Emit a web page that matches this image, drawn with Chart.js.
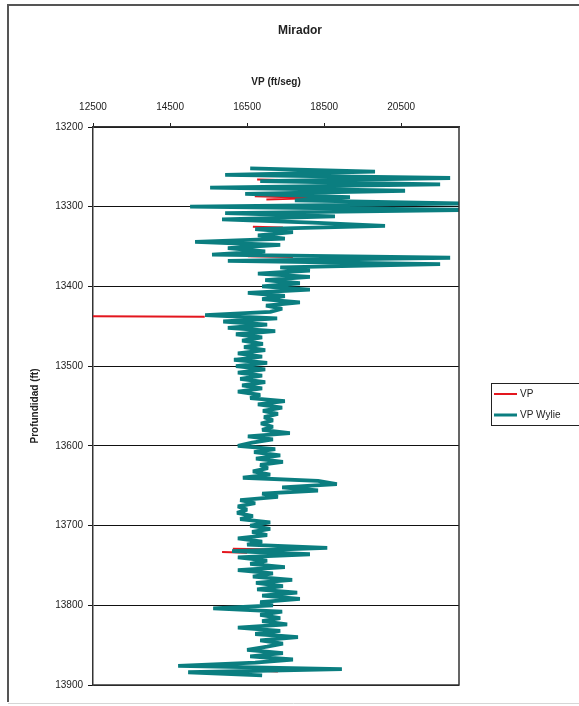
<!DOCTYPE html>
<html>
<head>
<meta charset="utf-8">
<title>Mirador</title>
<script src="https://cdn.jsdelivr.net/npm/chart.js@4.4.1/dist/chart.umd.min.js"></script>
<style>
    html, body { margin:0; padding:0; background:#fff; }
    #wrap { position:relative; width:579px; height:706px; }
</style>
</head>
<body>
<div id="wrap"><canvas id="logChart"></canvas></div>
<script>
// ===============================
// Data
// ===============================

const xTicks = [12500, 14500, 16500, 18500, 20500];
const yTicks = [13200, 13300, 13400, 13500, 13600, 13700, 13800, 13900];

// VP Wylie log, depth (ft) and velocity (ft/seg)
const wylieDepth = [
    13252,13256,13260,13264,13268,13272,13276,13280,13284,13288,
    13292,13296,13300,13304,13308,13312,13316,13320,13324,13328,
    13332,13336,13340,13344,13348,13352,13356,13360,13364,13368,
    13372,13376,13380,13384,13388,13392,13396,13400,13404,13408,
    13412,13416,13420,13424,13428,13432,13436,13440,13444,13448,
    13452,13456,13460,13464,13468,13472,13476,13480,13484,13488,
    13492,13496,13500,13504,13508,13512,13516,13520,13524,13528,
    13532,13536,13540,13544,13548,13552,13556,13560,13564,13568,
    13572,13576,13580,13584,13588,13592,13596,13600,13604,13608,
    13612,13616,13620,13624,13628,13632,13636,13640,13644,13648,
    13652,13656,13660,13664,13668,13672,13676,13680,13684,13688,
    13692,13696,13700,13704,13708,13712,13716,13720,13724,13728,
    13732,13736,13740,13744,13748,13752,13756,13760,13764,13768,
    13772,13776,13780,13784,13788,13792,13796,13800,13804,13808,
    13812,13816,13820,13824,13828,13832,13836,13840,13844,13848,
    13852,13856,13860,13864,13868,13872,13876,13880,13884,13888
];
const wylieVel = [
    16580,19820,15930,21770,16840,21510,15540,20600,16450,19170,
    17740,22300,15020,22300,15930,18780,15850,18190,20080,16710,
    17690,16780,17480,15150,17360,16000,16970,15590,21770,16000,
    21510,17360,18130,16780,18130,16970,17870,16890,18130,16520,
    17480,16890,17870,16990,17410,17100,15410,17280,15880,17020,
    16000,17230,16210,16890,16370,16910,16420,16970,16260,16890,
    16160,17020,16210,16970,16260,16890,16320,16970,16370,16890,
    16260,16840,16580,17480,16780,17410,16910,17300,16940,17170,
    16860,17170,16890,17610,16520,17170,16630,16260,17230,16680,
    17360,16730,17430,16840,17040,16650,17100,16390,18340,18830,
    17410,18340,16890,17300,16320,16710,16260,16500,16240,16650,
    16320,17100,16580,17100,16630,17020,16260,16890,16500,18580,
    16110,18130,16260,17020,16580,17480,16260,17170,16650,17670,
    16730,17430,16760,17800,16890,17870,16840,17170,15620,17410,
    16840,17360,16890,17540,16260,17360,16710,17820,16840,17430,
    17020,16500,17430,16580,17690,16710,14710,18960,14970,16890
];

// VP readings (null = no reading)
const vpDepth = [13266,13267,null, 13287,13289,13291,null, 13325,13326,null, 13362,13363,null,
                 13437,13438,null, 13729,13730,null, 13733,13734,null, 13882,13883];
const vpVel   = [16760,17930,null, 16700,18300,17000,null, 16650,17430,null, 16520,17690,null,
                 9500,15400,null,  16130,17280,null, 15850,16500,null, 16890,17300];

const RED = "#e3161e";
const TEAL = "#0b7e80";
const FONT = "'Liberation Sans', Arial, sans-serif";

const toPoints = (depths, vels) => depths.map((d, i) => ({x: vels[i], y: d}));

// ===============================
// Frame, title and legend
// ===============================

const framePlugin = {
    id: "frame",
    beforeDraw(chart){
        const c = chart.ctx;
        c.save();
        c.fillStyle = "#fff";
        c.fillRect(0, 0, chart.width, chart.height);
        c.restore();
    },
    afterDraw(chart){
        const c = chart.ctx;
        const a = chart.chartArea;
        c.save();

        // right and bottom edges of the plot
        c.strokeStyle = "#333";
        c.lineWidth = 1.5;
        c.beginPath();
        c.moveTo(a.right, a.top);
        c.lineTo(a.right, a.bottom);
        c.lineTo(a.left, a.bottom);
        c.stroke();

        // outer border
        c.strokeStyle = "#555";
        c.lineWidth = 2;
        c.beginPath();
        c.moveTo(chart.width, 5);
        c.lineTo(8, 5);
        c.lineTo(8, 702);
        c.stroke();
        c.strokeStyle = "#d6d6d6";
        c.lineWidth = 1;
        c.beginPath();
        c.moveTo(8, 703.5);
        c.lineTo(chart.width, 703.5);
        c.stroke();

        // title
        c.fillStyle = "#222";
        c.font = "bold 12px " + FONT;
        c.textAlign = "center";
        c.textBaseline = "middle";
        c.fillText("Mirador", 300, 31);

        // legend
        c.strokeStyle = "#222";
        c.lineWidth = 1;
        c.strokeRect(491.5, 383.5, 120, 42);
        const ds = chart.data.datasets;
        const rows = [394, 415];
        c.font = "10px " + FONT;
        c.textAlign = "left";
        ds.forEach((d, i) => {
            c.strokeStyle = d.borderColor;
            c.lineWidth = Math.min(d.borderWidth, 3);
            c.beginPath();
            c.moveTo(494, rows[i]);
            c.lineTo(517, rows[i]);
            c.stroke();
            c.fillStyle = "#222";
            c.fillText(d.label, 520, rows[i]);
        });

        c.restore();
    }
};

// ===============================
// Chart
// ===============================

const ctx = document.getElementById("logChart");

const chart = new Chart(ctx, {
    type: "scatter",
    data: {
        datasets: [{
            label: "VP",
            data: toPoints(vpDepth, vpVel),
            showLine: true,
            spanGaps: false,
            borderColor: RED,
            borderWidth: 2,
            pointRadius: 0,
            order: 2
        },{
            label: "VP Wylie",
            data: toPoints(wylieDepth, wylieVel),
            showLine: true,
            borderColor: TEAL,
            borderWidth: 3.8,
            pointRadius: 0,
            order: 1
        }]
    },
    options: {
        animation: false,
        responsive: true,
        maintainAspectRatio: false,
        events: [],
        layout: { padding: { left: 0, right: 120, top: 0, bottom: 21 } },
        elements: { line: { tension: 0, borderJoinStyle: "bevel", borderCapStyle: "butt" } },
        plugins: {
            legend: { display: false },
            tooltip: { enabled: false },
            title: { display: false }
        },
        scales: {
            x: {
                type: "linear",
                position: "top",
                min: 12500,
                max: 22000,
                afterBuildTicks: (scale) => { scale.ticks = xTicks.map(v => ({value: v})); },
                afterFit: (scale) => { scale.height = 127; },
                ticks: {
                    callback: (v) => String(v),
                    font: { size: 10, family: FONT },
                    color: "#222",
                    padding: 10,
                    maxRotation: 0
                },
                grid: { drawOnChartArea: false, drawTicks: true, tickLength: 4, color: "#222" },
                border: { color: "#333", width: 1.5 },
                title: {
                    display: true,
                    text: "VP (ft/seg)",
                    font: { size: 10, weight: "bold", family: FONT },
                    color: "#222",
                    padding: { top: 76, bottom: 0 }
                }
            },
            y: {
                type: "linear",
                reverse: true,
                min: 13200,
                max: 13900,
                afterBuildTicks: (scale) => { scale.ticks = yTicks.map(v => ({value: v})); },
                afterFit: (scale) => { scale.width = 93; },
                ticks: {
                    callback: (v) => String(v),
                    font: { size: 10, family: FONT },
                    color: "#222",
                    padding: 5
                },
                grid: { color: "#111", lineWidth: 1, drawTicks: true, tickLength: 5 },
                border: { color: "#333", width: 1.5 },
                title: {
                    display: true,
                    text: "Profundidad (ft)",
                    font: { size: 10, weight: "bold", family: FONT },
                    color: "#222",
                    padding: { top: 29, bottom: 0 }
                }
            }
        }
    },
    plugins: [framePlugin]
});
</script>
</body>
</html>
